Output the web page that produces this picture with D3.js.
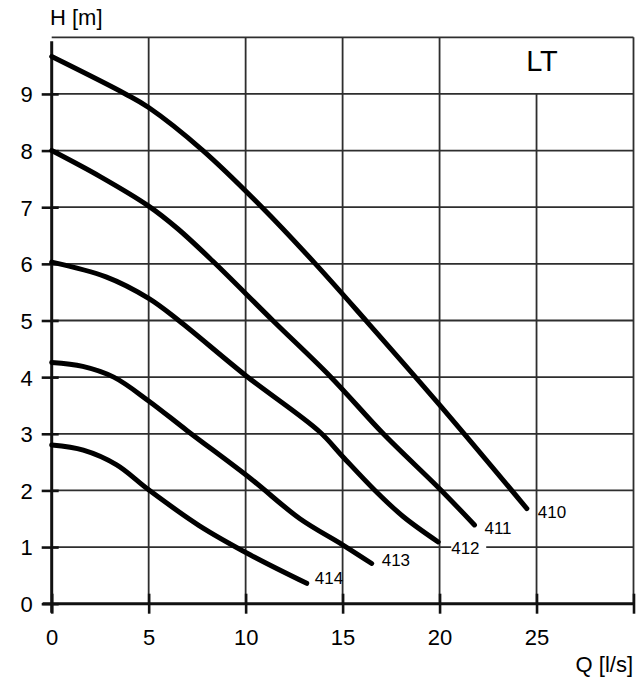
<!DOCTYPE html>
<html>
<head>
<meta charset="utf-8">
<script src="https://cdn.jsdelivr.net/npm/d3@7"></script>
<style>
  body { margin: 0; background: #fff; }
  svg text { font-family: "Liberation Sans", Arial, sans-serif; fill: #000; }
</style>
</head>
<body>
<svg id="chart" width="637" height="697"></svg>
<script>
// pump curves, Q [l/s] vs H [m]
const curve410 = [[0, 9.66], [3.8, 9.0], [5, 8.76], [7.8, 8.0], [10.84, 7.0], [13.6, 6.0], [16.2, 5.0], [20, 3.51], [24.5, 1.68]];
const curve411 = [[0, 8.0], [2.5, 7.54], [5, 7.02], [6.5, 6.62], [8.3, 6.05], [11.4, 5.0], [14.4, 4.0], [17.1, 3.0], [20, 2.03], [21.8, 1.39]];
const curve412 = [[0, 6.03], [2.8, 5.77], [5, 5.39], [6.55, 5.0], [10, 4.03], [13.8, 3.04], [15, 2.6], [16.67, 2.0], [18.12, 1.54], [19.93, 1.09]];
const curve413 = [[0, 4.26], [1.6, 4.19], [3.2, 4.0], [5, 3.58], [7, 3.05], [10.25, 2.21], [12.8, 1.5], [15, 1.04], [16.5, 0.71]];
const curve414 = [[0, 2.80], [1.63, 2.71], [3.35, 2.45], [5, 2.01], [7.6, 1.38], [10.25, 0.86], [13.15, 0.36]];
const curveNames = ["410", "411", "412", "413", "414"];
const xTicks = [0, 5, 10, 15, 20, 25, 30];
const yTicks = [0, 1, 2, 3, 4, 5, 6, 7, 8, 9];

const curves = [curve410, curve411, curve412, curve413, curve414];
// label offsets from the curve end, in px
const labelOffsets = [[11, 3], [10, 3], [13, 6], [10, -4], [8, -5]];

let svg = d3.select("#chart");
let x = d3.scaleLinear().domain([0, 30]).range([51.7, 633.5]);
let y = d3.scaleLinear().domain([0, 10]).range([603.7, 37.3]);

let grid = svg.append("g").attr("stroke", "#2e2e2e").attr("stroke-width", 1.8);

// horizontal grid lines
grid.selectAll(".hgrid")
    .data(yTicks.slice(1))
    .enter()
    .append("line")
    .attr("x1", x(0))
    .attr("x2", x(30))
    .attr("y1", d => y(d))
    .attr("y2", d => y(d));

// vertical grid lines, the 25 line stops under the LT box
grid.selectAll(".vgrid")
    .data(xTicks.slice(1, -1))
    .enter()
    .append("line")
    .attr("x1", d => x(d))
    .attr("x2", d => x(d))
    .attr("y1", y(0))
    .attr("y2", d => d == 25 ? y(9) : y(10));

// top and right border
grid.append("line").attr("x1", x(0)).attr("x2", x(30)).attr("y1", y(10)).attr("y2", y(10));
grid.append("line").attr("x1", x(30)).attr("x2", x(30)).attr("y1", y(10)).attr("y2", y(0));

// x axis
let xAxis = svg.append("g")
    .attr("transform", "translate(0," + y(0) + ")")
    .call(d3.axisBottom(x).tickValues(xTicks).tickSize(10).tickFormat(d => d == 30 ? "" : d));
xAxis.select(".domain").remove();
xAxis.selectAll(".tick line").attr("y1", -10).attr("stroke", "#111").attr("stroke-width", 2.6);
xAxis.selectAll(".tick text")
    .attr("y", 41).attr("dy", null)
    .attr("font-size", 22).attr("font-family", null);

// y axis
let yAxis = svg.append("g")
    .attr("transform", "translate(" + x(0) + ",0)")
    .call(d3.axisLeft(y).tickValues(yTicks).tickSize(10));
yAxis.select(".domain").remove();
yAxis.selectAll(".tick line").attr("x2", 7).attr("x1", -10).attr("stroke", "#111").attr("stroke-width", 2.6);
yAxis.selectAll(".tick text")
    .attr("x", -19).attr("dy", "0.36em")
    .attr("font-size", 22).attr("font-family", null);

// thick axis lines
svg.append("line").attr("x1", x(0)).attr("x2", x(0)).attr("y1", y(10) + 4).attr("y2", y(0) + 9)
    .attr("stroke", "#111").attr("stroke-width", 3);
svg.append("line").attr("x1", x(0) - 9).attr("x2", x(30)).attr("y1", y(0)).attr("y2", y(0))
    .attr("stroke", "#111").attr("stroke-width", 3);

// curves
let line = d3.line()
    .x(d => x(d[0]))
    .y(d => y(d[1]))
    .curve(d3.curveCatmullRom.alpha(0.5));

svg.selectAll(".curve")
    .data(curves)
    .enter()
    .append("path")
    .attr("class", "curve")
    .attr("d", line)
    .attr("fill", "none")
    .attr("stroke", "#000")
    .attr("stroke-width", 5)
    .attr("stroke-linecap", "round")
    .attr("stroke-linejoin", "round");

// curve labels
let labels = svg.selectAll(".clabel")
    .data(curves)
    .enter()
    .append("g")
    .attr("transform", (d, i) => {
        let last = d[d.length - 1];
        return "translate(" + (x(last[0]) + labelOffsets[i][0]) + "," + (y(last[1]) + labelOffsets[i][1]) + ")";
    });
labels.filter((d, i) => i == 2)
    .append("rect")
    .attr("x", 0).attr("y", -8).attr("width", 35).attr("height", 16)
    .attr("fill", "#fff");
labels.append("text")
    .attr("dy", "0.36em")
    .attr("font-size", 17)
    .text((d, i) => curveNames[i]);

// titles
svg.append("text").attr("x", 50).attr("y", 25).attr("font-size", 22).text("H [m]");
svg.append("text").attr("x", 633).attr("y", 672).attr("text-anchor", "end").attr("font-size", 22).text("Q [l/s]");
svg.append("text").attr("x", 542).attr("y", 71).attr("text-anchor", "middle").attr("font-size", 29).text("LT");
</script>
</body>
</html>
